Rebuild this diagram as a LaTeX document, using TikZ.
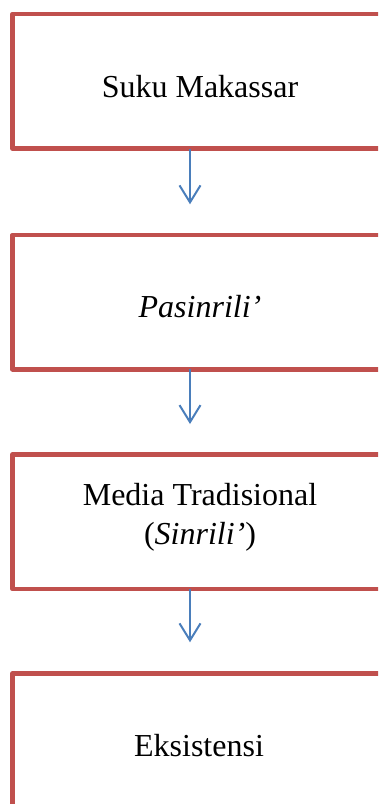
\documentclass[tikz,border=0pt]{standalone}
\usepackage{fontspec}
\setmainfont{Liberation Serif}
\usetikzlibrary{arrows.meta}
\definecolor{boxred}{HTML}{C0504D}
\definecolor{arrblue}{HTML}{4A7EBB}
\begin{document}
\begin{tikzpicture}[x=1pt,y=-1pt,
  box/.style={draw=boxred, line width=4.5pt, rectangle, minimum width=375.5pt, minimum height=134.5pt, outer sep=0pt, inner sep=0pt, line join=round},
  lbl/.style={anchor=base, font=\fontsize{32}{40}\selectfont, inner sep=0pt, align=center},
  arr/.style={draw=arrblue, line width=2pt, -{Straight Barb[length=17pt,width=21pt,line width=2pt]}}]
\clip (0,0) rectangle (378,804);
\fill[white] (0,0) rectangle (378,804);
\node[box] (b1) at (200.25,81.25) {};
\node[box] (b2) at (200.25,302) {};
\node[box] (b3) at (200.25,521.75) {};
\node[box] (b4) at (200.25,740.5) {};
\node[lbl] (t1) at (200,97) {Suku Makassar};
\node[lbl] (t2) at (200,317) {\textit{Pasinrili’}};
\node[lbl] (t3a) at (200,505) {Media Tradisional};
\node[lbl] (t3b) at (200,544.5) {(\textit{Sinrili’})};
\node[lbl] (t4) at (199,756) {Eksistensi};
\draw[arr] ([xshift=-10.25pt]b1.south) -- ([xshift=-10.25pt,yshift=30.5pt]b2.north);
\draw[arr] ([xshift=-10.25pt]b2.south) -- ([xshift=-10.25pt,yshift=30.5pt]b3.north);
\draw[arr] ([xshift=-10.25pt]b3.south) -- ([xshift=-10.25pt,yshift=31pt]b4.north);
\end{tikzpicture}
\end{document}
